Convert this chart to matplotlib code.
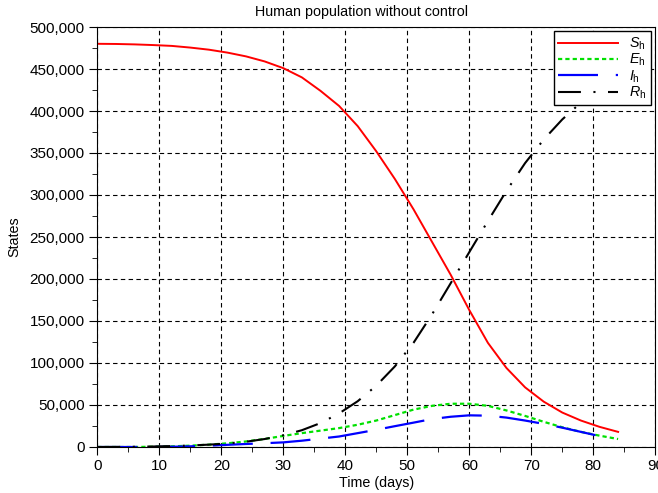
import matplotlib
matplotlib.use("Agg")
import matplotlib.pyplot as plt
from matplotlib.ticker import MultipleLocator, FuncFormatter

plt.rcParams["font.family"] = ["Liberation Sans", "DejaVu Sans"]
plt.rcParams["mathtext.fontset"] = "custom"
plt.rcParams["mathtext.rm"] = "Liberation Sans"
plt.rcParams["mathtext.it"] = "Liberation Sans:italic"

# time in days
t = [0, 3, 6, 9, 12, 15, 18, 21, 24, 27, 30, 33, 36, 39, 42, 45, 48, 51,
     54, 57, 60, 63, 66, 69, 72, 75, 78, 81, 84]

# states, in thousands of people
S_h = [480, 479.8, 479.3, 478.5, 477.5, 475.5, 473, 469.5, 465, 459, 451,
       440, 424, 406, 382, 352, 319, 283, 244, 205, 163, 124, 94, 71, 54,
       41, 31.5, 24, 18]
E_h = [0, 0, 0, 0.3, 0.8, 1.6, 2.8, 4.4, 6.6, 9.6, 13.2, 16.5, 19.5, 22.5,
       26.5, 31.5, 38, 44.5, 49, 51.5, 51.5, 49, 43.5, 37, 30, 23.5, 18,
       13.5, 9.5]
I_h = [0, 0, 0, 0.1, 0.3, 0.8, 1.6, 2.6, 3.6, 4.5, 5.5, 7.5, 10, 12.5,
       16.5, 20.5, 24.8, 29, 33.3, 36, 37.7, 37.3, 35, 31.5, 27.5, 23, 18,
       13]
R_h = [0, 0.1, 0.3, 0.6, 1.1, 1.8, 2.8, 4.2, 6.3, 9.5, 14, 20, 28.5, 40,
       54.5, 73, 96, 124, 158, 195, 232, 269, 305, 338, 366, 390, 410, 426,
       439]

fig = plt.figure(figsize=(6.58, 4.93), dpi=100)
ax = fig.add_axes([97.3 / 658, 46 / 493, 558 / 658, 420 / 493])

k = 1000
ax.plot(t, [v * k for v in S_h], color="red", lw=1.4, label=r"$S_{\rm h}$")
ax.plot(t, [v * k for v in E_h], color="#00e000", lw=1.6,
        dashes=(1.9, 1.4), label=r"$E_{\rm h}$")
ax.plot(t[:len(I_h)], [v * k for v in I_h], color="blue", lw=1.6,
        dashes=(18, 8), label=r"$I_{\rm h}$")
ax.plot(t, [v * k for v in R_h], color="black", lw=1.5,
        dashes=(11, 6, 1, 6), label=r"$R_{\rm h}$")

ax.set_xlim(0, 90)
ax.set_ylim(0, 500000)
ax.xaxis.set_major_locator(MultipleLocator(10))
ax.xaxis.set_minor_locator(MultipleLocator(5))
ax.yaxis.set_major_locator(MultipleLocator(50000))
ax.yaxis.set_minor_locator(MultipleLocator(25000))
ax.yaxis.set_major_formatter(FuncFormatter(lambda v, p: f"{v:,.0f}"))
ax.tick_params(which="major", direction="out", length=6, labelsize=11,
               pad=3, top=False, right=False)
ax.tick_params(which="minor", direction="out", length=3.6,
               top=False, right=False)
ax.grid(True, which="major", color="black", ls=(0, (4, 3)), lw=0.8)

ax.set_xlabel("Time (days)", fontsize=10.3, labelpad=2)
ax.set_ylabel("States", fontsize=10.3)
ax.yaxis.set_label_coords(-0.137, 0.5)
fig.text(361.5 / 658, 1 - 12 / 493, "Human population without control",
         ha="center", va="center", fontsize=10.3)

leg = ax.legend(loc="upper right", fontsize=10.3, handlelength=4.2,
                fancybox=False, framealpha=1, edgecolor="black",
                borderaxespad=0.3, labelspacing=0.0, handletextpad=0.8,
                borderpad=0.3, shadow=False)
leg.get_frame().set_linewidth(1)

fig.savefig("out.png", dpi=100)
